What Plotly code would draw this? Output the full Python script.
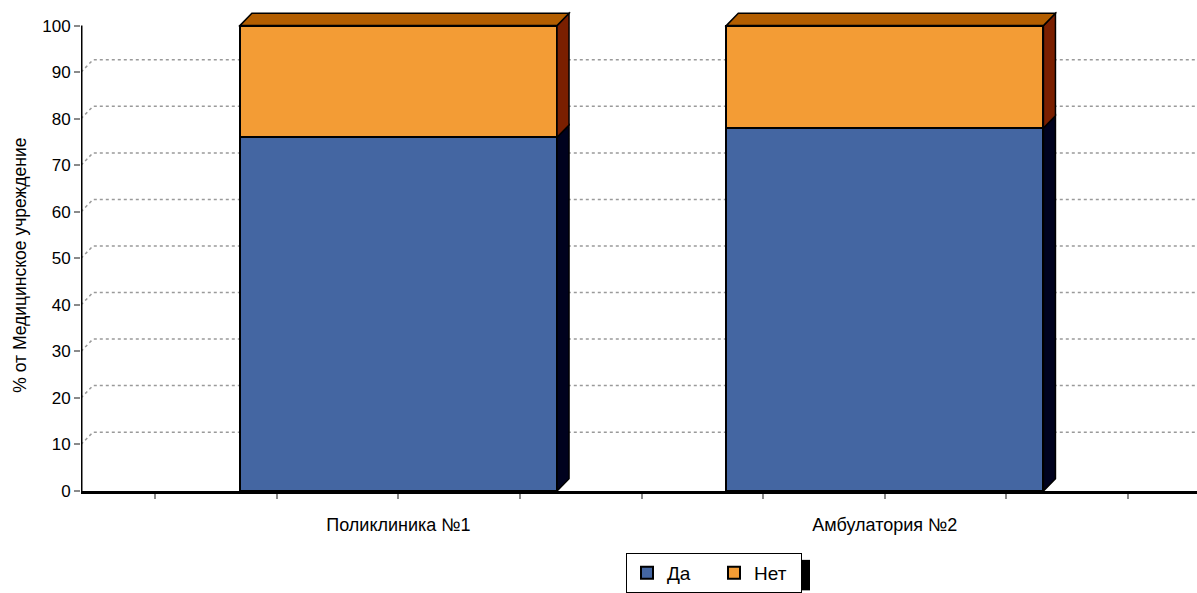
import plotly.graph_objects as go

# Data
categories = ["Поликлиника №1", "Амбулатория №2"]
yes_values = [76, 78]
no_values = [24, 22]
series_names = ["Да", "Нет"]
y_ticks = [0, 10, 20, 30, 40, 50, 60, 70, 80, 90, 100]
y_title = "% от Медицинское учреждение"

# Colours
BLUE = "#4466A2"
ORANGE = "#F39C35"
ORANGE_TOP = "#B35E00"
ORANGE_SIDE = "#7A1F00"
BLUE_SIDE = "#00021E"

FONT = "Liberation Sans, Arial, sans-serif"

# Geometry (axis units)
X_MIN, X_MAX = -0.6526, 1.6417
Y_MAX = 104.0
BAR_W = 0.652
DX = 0.0247      # depth offset along x
DY = 2.65        # depth offset along y

xpos = list(range(len(categories)))

fig = go.Figure()
fig.add_trace(go.Bar(
    x=xpos, y=yes_values, name=series_names[0], width=BAR_W,
    marker=dict(color=BLUE, line=dict(color="black", width=2)),
))
fig.add_trace(go.Bar(
    x=xpos, y=no_values, name=series_names[1], width=BAR_W,
    marker=dict(color=ORANGE, line=dict(color="black", width=2)),
))

shapes = []

# Back-wall dotted gridlines with diagonal lead-in from the axis
for v in y_ticks[1:-1]:
    shapes.append(dict(
        type="path", xref="x", yref="y", layer="below",
        path=f"M {X_MIN},{v} L {X_MIN + DX},{v + DY} L {X_MAX},{v + DY}",
        line=dict(color="#9A9A9A", width=1.5, dash="dot"),
    ))

# Depth faces of each stacked column
for i, x in enumerate(xpos):
    x0 = x - BAR_W / 2
    x1 = x + BAR_W / 2
    base = 0
    for vals, side_col in ((yes_values, BLUE_SIDE), (no_values, ORANGE_SIDE)):
        top = base + vals[i]
        shapes.append(dict(
            type="path", xref="x", yref="y", layer="above",
            path=(f"M {x1},{base} L {x1 + DX},{base + DY} "
                  f"L {x1 + DX},{top + DY} L {x1},{top} Z"),
            fillcolor=side_col, line=dict(color="black", width=1.5),
        ))
        base = top
    shapes.append(dict(
        type="path", xref="x", yref="y", layer="above",
        path=(f"M {x0},{base} L {x0 + DX},{base + DY} "
              f"L {x1 + DX},{base + DY} L {x1},{base} Z"),
        fillcolor=ORANGE_TOP, line=dict(color="black", width=1.5),
    ))

# Vertical value axis line (0..100 only)
shapes.append(dict(
    type="line", xref="x", yref="y", layer="above",
    x0=X_MIN, x1=X_MIN, y0=0, y1=y_ticks[-1],
    line=dict(color="black", width=3),
))

M_TOP, M_BOT = 7, 94
PLOT_H = 593 - M_TOP - M_BOT
BOTTOM_PX = 593 - M_BOT

# Legend drop shadow
shapes.append(dict(
    type="rect", xref="paper", yref="paper", layer="below",
    x0=(802 - 81) / 1116, x1=(810 - 81) / 1116,
    y0=(BOTTOM_PX - 600) / PLOT_H, y1=(BOTTOM_PX - 569) / PLOT_H,
    fillcolor="black", line=dict(width=0),
))

# Category axis: minor ticks at quarter steps, labels at category centres
x_tickvals = [-0.5, -0.25, 0, 0.25, 0.5, 0.75, 1, 1.25, 1.5]
x_ticktext = []
for t in x_tickvals:
    if t in xpos:
        x_ticktext.append(categories[int(t)])
    else:
        x_ticktext.append("")

fig.add_annotation(
    text=y_title, textangle=-90, showarrow=False,
    xref="paper", yref="paper",
    x=(20 - 81) / 1116, y=(BOTTOM_PX - 270) / PLOT_H,
    xanchor="center", yanchor="middle",
    font=dict(size=17.5, family=FONT, color="black"),
)

fig.update_layout(
    barmode="stack",
    width=1197, height=593,
    margin=dict(l=81, r=0, t=M_TOP, b=M_BOT),
    paper_bgcolor="white", plot_bgcolor="white",
    font=dict(family=FONT, color="black"),
    shapes=shapes,
    showlegend=True,
    legend=dict(
        orientation="h", x=(626 - 81) / 1116, xanchor="left",
        y=(BOTTOM_PX - 562) / PLOT_H, yanchor="top",
        bordercolor="black", borderwidth=1, bgcolor="white",
        font=dict(size=19, family=FONT),
        traceorder="normal", entrywidth=42,
    ),
    xaxis=dict(
        range=[X_MIN, X_MAX],
        tickvals=x_tickvals, ticktext=x_ticktext,
        ticks="outside", ticklen=5, tickcolor="#8A8A8A", tickwidth=1.5,
        showgrid=False, zeroline=False,
        showline=True, linecolor="black", linewidth=3,
        tickfont=dict(size=18, family=FONT),
        ticklabelstandoff=10,
    ),
    yaxis=dict(
        range=[0, Y_MAX],
        tickvals=y_ticks,
        ticks="outside", ticklen=6, tickcolor="#8A8A8A", tickwidth=1.5,
        showgrid=False, zeroline=False, showline=False,
        tickfont=dict(size=17, family=FONT),
    ),
)

fig.write_html("out.html")
